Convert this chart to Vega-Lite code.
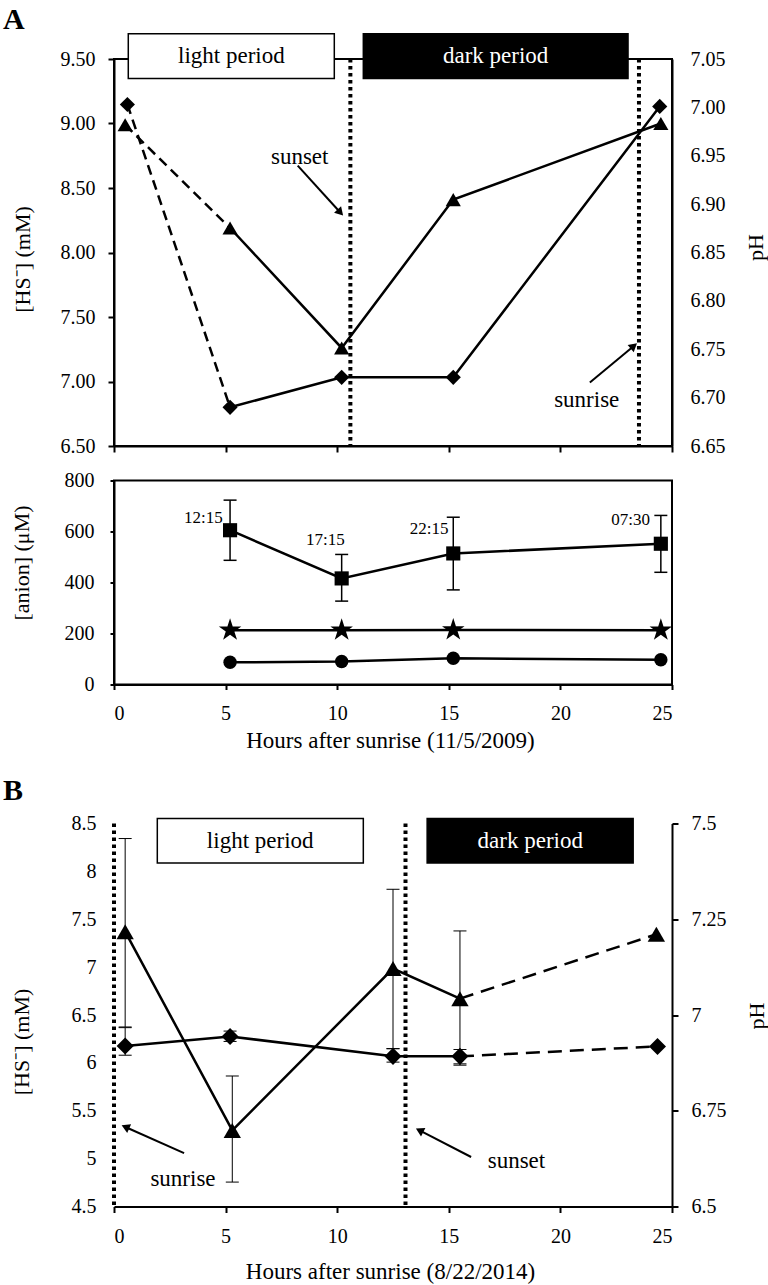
{
"$schema": "https://vega.github.io/schema/vega-lite/v6.json",
"padding": {"left": 2, "top": 3, "right": 1, "bottom": 0},
"bounds": "flush",
"spacing": 34.5,
"datasets": {
 "a_hs": [{"h":0.5,"v":8.99},{"h":5.2,"v":8.19},{"h":10.2,"v":7.26},{"h":15.2,"v":8.41},{"h":24.5,"v":9.0}],
 "a_ph": [{"h":0.6,"v":7.003},{"h":5.2,"v":6.69},{"h":10.2,"v":6.721},{"h":15.2,"v":6.721},{"h":24.45,"v":7.001}],
 "a_marks": [{"h":10.59},{"h":23.52}],
 "a_boxes": [{"period":"light","x1":0.64,"x2":9.87,"y1":9.348,"y2":9.696,"xc":5.26,"yc":9.522,"t":"light period"},{"period":"dark","x1":11.17,"x2":23.03,"y1":9.348,"y2":9.696,"xc":17.1,"yc":9.522,"t":"dark period"}],
 "a_notes": [{"t":"sunset","h":8.32,"v":8.744,"h1":8.23,"v1":8.674,"h2":10.14,"v2":8.31,"ang":47.7},{"t":"sunrise","h":21.18,"v":6.858,"h1":21.32,"v1":6.992,"h2":23.29,"v2":7.276,"ang":-39.8}],
 "anion": [
  {"ion":"sq","h":5.2,"v":605,"lo":487,"hi":723,"lab":"12:15","lh":4.0,"lv":654},
  {"ion":"sq","h":10.2,"v":416,"lo":327,"hi":510,"lab":"17:15","lh":9.47,"lv":565},
  {"ion":"sq","h":15.2,"v":514,"lo":371,"hi":656,"lab":"22:15","lh":14.12,"lv":611},
  {"ion":"sq","h":24.5,"v":552,"lo":440,"hi":663,"lab":"07:30","lh":23.15,"lv":647},
  {"ion":"star","h":5.2,"v":213},{"ion":"star","h":10.2,"v":213},{"ion":"star","h":15.2,"v":214},{"ion":"star","h":24.5,"v":213},
  {"ion":"circ","h":5.2,"v":87},{"ion":"circ","h":10.2,"v":90},{"ion":"circ","h":15.2,"v":103},{"ion":"circ","h":24.5,"v":97}
 ],
 "b_hs": [{"h":0.5,"v":7.37,"lo":6.375,"hi":8.343},{"h":5.3,"v":5.295,"lo":4.755,"hi":5.863},{"h":12.5,"v":6.985,"lo":6.149,"hi":7.813},{"h":15.5,"v":6.671,"lo":5.99,"hi":7.378},{"h":24.3,"v":7.343}],
 "b_ph": [{"h":0.5,"v":6.919,"lo":6.895,"hi":6.967},{"h":5.2,"v":6.944,"lo":6.931,"hi":6.958},{"h":12.5,"v":6.892,"lo":6.877,"hi":6.912},{"h":15.5,"v":6.892,"lo":6.869,"hi":6.91},{"h":24.35,"v":6.918}],
 "b_marks": [{"h":0},{"h":13.06}],
 "b_boxes": [{"period":"light","x1":1.94,"x2":11.17,"y1":8.088,"y2":8.552,"xc":6.55,"yc":8.32,"t":"light period"},{"period":"dark","x1":14.03,"x2":23.26,"y1":8.088,"y2":8.552,"xc":18.65,"yc":8.32,"t":"dark period"}],
 "b_notes": [{"t":"sunrise","h":3.09,"v":4.79,"h1":3.14,"v1":5.058,"h2":0.51,"v2":5.33,"ang":-156.1},{"t":"sunset","h":18.03,"v":4.98,"h1":16.0,"v1":5.017,"h2":13.69,"v2":5.295,"ang":-152.6}]
},
"vconcat": [
   {
    "width": 558, "height": 387,
    "view": {"stroke": "black", "strokeWidth": 2},
    "title": {"text": "A", "anchor": "start", "frame": "group", "dx": -111, "offset": -26, "baseline": "alphabetic"},
    "resolve": {"scale": {"y": "independent"}},
    "layer": [
     {"layer": [
      {"data": {"name": "a_hs"}, "transform": [{"filter": "datum.h <= 5.3"}],
       "mark": {"type": "line", "color": "black", "strokeWidth": 2.5, "strokeDash": [10, 6]},
       "encoding": {
        "x": {"field": "h", "type": "quantitative", "scale": {"domain": [0, 25], "nice": false, "zero": false}, "axis": {"values": [0, 5, 10, 15, 20, 25], "labels": false, "title": null, "tickSize": 6}},
        "y": {"field": "v", "type": "quantitative", "scale": {"domain": [6.5, 9.5], "nice": false, "zero": false}, "axis": {"values": [6.5, 7, 7.5, 8, 8.5, 9, 9.5], "format": ".2f", "tickSize": 6, "labelPadding": 13, "title": "[HS⁻] (mM)", "titleX": -80, "titleY": 200, "titleBaseline": "bottom", "titleAngle": 270}}
       }},
      {"data": {"name": "a_hs"}, "transform": [{"filter": "datum.h >= 5"}],
       "mark": {"type": "line", "color": "black", "strokeWidth": 2.5},
       "encoding": {
        "x": {"field": "h", "type": "quantitative", "scale": {"domain": [0, 25], "nice": false, "zero": false}},
        "y": {"field": "v", "type": "quantitative", "scale": {"domain": [6.5, 9.5], "nice": false, "zero": false}}
       }},
      {"data": {"name": "a_hs"},
       "mark": {"type": "point", "shape": "triangle-up", "filled": true, "color": "black", "opacity": 1, "size": 230},
       "encoding": {
        "x": {"field": "h", "type": "quantitative", "scale": {"domain": [0, 25], "nice": false, "zero": false}},
        "y": {"field": "v", "type": "quantitative", "scale": {"domain": [6.5, 9.5], "nice": false, "zero": false}}
       }},
      {"data": {"name": "a_marks"},
       "mark": {"type": "rule", "color": "black", "strokeWidth": 4, "strokeDash": [3.5, 3.5]},
       "encoding": {
        "x": {"field": "h", "type": "quantitative", "scale": {"domain": [0, 25], "nice": false, "zero": false}}
       }},
      {"data": {"name": "a_boxes"}, "transform": [{"filter": "datum.period == 'light'"}],
       "mark": {"type": "rect", "fill": "white", "stroke": "black", "strokeWidth": 1.5},
       "encoding": {
        "x": {"field": "x1", "type": "quantitative", "scale": {"domain": [0, 25], "nice": false, "zero": false}},
        "x2": {"field": "x2"},
        "y": {"field": "y1", "type": "quantitative", "scale": {"domain": [6.5, 9.5], "nice": false, "zero": false}},
        "y2": {"field": "y2"}
       }},
      {"data": {"name": "a_boxes"}, "transform": [{"filter": "datum.period == 'dark'"}],
       "mark": {"type": "rect", "fill": "black", "stroke": "black", "strokeWidth": 1.5},
       "encoding": {
        "x": {"field": "x1", "type": "quantitative", "scale": {"domain": [0, 25], "nice": false, "zero": false}},
        "x2": {"field": "x2"},
        "y": {"field": "y1", "type": "quantitative", "scale": {"domain": [6.5, 9.5], "nice": false, "zero": false}},
        "y2": {"field": "y2"}
       }},
      {"data": {"name": "a_boxes"}, "transform": [{"filter": "datum.period == 'light'"}],
       "mark": {"type": "text", "font": "Liberation Serif", "fontSize": 23, "color": "black", "baseline": "middle", "align": "center"},
       "encoding": {
        "x": {"field": "xc", "type": "quantitative", "scale": {"domain": [0, 25], "nice": false, "zero": false}},
        "y": {"field": "yc", "type": "quantitative", "scale": {"domain": [6.5, 9.5], "nice": false, "zero": false}},
        "text": {"field": "t"}
       }},
      {"data": {"name": "a_boxes"}, "transform": [{"filter": "datum.period == 'dark'"}],
       "mark": {"type": "text", "font": "Liberation Serif", "fontSize": 23, "color": "white", "baseline": "middle", "align": "center"},
       "encoding": {
        "x": {"field": "xc", "type": "quantitative", "scale": {"domain": [0, 25], "nice": false, "zero": false}},
        "y": {"field": "yc", "type": "quantitative", "scale": {"domain": [6.5, 9.5], "nice": false, "zero": false}},
        "text": {"field": "t"}
       }},
      {"data": {"name": "a_notes"},
       "mark": {"type": "text", "font": "Liberation Serif", "fontSize": 23, "color": "black", "baseline": "middle", "align": "center"},
       "encoding": {
        "x": {"field": "h", "type": "quantitative", "scale": {"domain": [0, 25], "nice": false, "zero": false}},
        "y": {"field": "v", "type": "quantitative", "scale": {"domain": [6.5, 9.5], "nice": false, "zero": false}},
        "text": {"field": "t"}
       }},
      {"data": {"name": "a_notes"},
       "mark": {"type": "rule", "color": "black", "strokeWidth": 2},
       "encoding": {
        "x": {"field": "h1", "type": "quantitative", "scale": {"domain": [0, 25], "nice": false, "zero": false}},
        "x2": {"field": "h2"},
        "y": {"field": "v1", "type": "quantitative", "scale": {"domain": [6.5, 9.5], "nice": false, "zero": false}},
        "y2": {"field": "v2"}
       }},
      {"data": {"name": "a_notes"},
       "mark": {"type": "point", "shape": "triangle-right", "filled": true, "color": "black", "opacity": 1, "size": 90},
       "encoding": {
        "x": {"field": "h2", "type": "quantitative", "scale": {"domain": [0, 25], "nice": false, "zero": false}},
        "y": {"field": "v2", "type": "quantitative", "scale": {"domain": [6.5, 9.5], "nice": false, "zero": false}},
        "angle": {"field": "ang", "type": "quantitative", "scale": null}
       }}
     ]},
     {"layer": [
      {"data": {"name": "a_ph"}, "transform": [{"filter": "datum.h <= 5.3"}],
       "mark": {"type": "line", "color": "black", "strokeWidth": 2.5, "strokeDash": [10, 6]},
       "encoding": {
        "x": {"field": "h", "type": "quantitative", "scale": {"domain": [0, 25], "nice": false, "zero": false}},
        "y": {"field": "v", "type": "quantitative", "scale": {"domain": [6.65, 7.05], "nice": false, "zero": false}, "axis": {"orient": "right", "values": [6.65, 6.7, 6.75, 6.8, 6.85, 6.9, 6.95, 7, 7.05], "format": ".2f", "ticks": false, "labelPadding": 18, "title": "pH", "titleX": 95, "titleY": 188, "titleBaseline": "bottom", "titleAngle": 270}}
       }},
      {"data": {"name": "a_ph"}, "transform": [{"filter": "datum.h >= 5"}],
       "mark": {"type": "line", "color": "black", "strokeWidth": 2.5},
       "encoding": {
        "x": {"field": "h", "type": "quantitative", "scale": {"domain": [0, 25], "nice": false, "zero": false}},
        "y": {"field": "v", "type": "quantitative", "scale": {"domain": [6.65, 7.05], "nice": false, "zero": false}}
       }},
      {"data": {"name": "a_ph"},
       "mark": {"type": "point", "shape": "diamond", "filled": true, "color": "black", "opacity": 1, "size": 230},
       "encoding": {
        "x": {"field": "h", "type": "quantitative", "scale": {"domain": [0, 25], "nice": false, "zero": false}},
        "y": {"field": "v", "type": "quantitative", "scale": {"domain": [6.65, 7.05], "nice": false, "zero": false}}
       }}
     ]}
    ]
   },
   {
    "width": 558, "height": 204,
    "view": {"stroke": "black", "strokeWidth": 2},
    "data": {"name": "anion"},
    "layer": [
     {"transform": [{"filter": "datum.ion == 'sq'"}],
      "mark": {"type": "rule", "color": "black", "strokeWidth": 1.5},
      "encoding": {
       "x": {"field": "h", "type": "quantitative", "scale": {"domain": [0, 25], "nice": false, "zero": false}, "axis": {"values": [0, 5, 10, 15, 20, 25], "tickSize": 5, "labelPadding": 14, "title": "Hours after sunrise (11/5/2009)", "titleFontSize": 23, "titleX": 276, "titleY": 63, "titleBaseline": "alphabetic", "titleAlign": "center"}},
       "y": {"field": "lo", "type": "quantitative", "scale": {"domain": [0, 800], "nice": false}, "axis": {"values": [0, 200, 400, 600, 800], "tickSize": 4, "labelPadding": 16, "title": "[anion] (μM)", "titleX": -81, "titleY": 82, "titleBaseline": "bottom", "titleAngle": 270}},
       "y2": {"field": "hi"}
      }},
     {"transform": [{"filter": "datum.ion == 'sq'"}],
      "mark": {"type": "tick", "orient": "horizontal", "size": 13, "thickness": 1.5, "color": "black", "opacity": 1},
      "encoding": {
       "x": {"field": "h", "type": "quantitative", "scale": {"domain": [0, 25], "nice": false, "zero": false}},
       "y": {"field": "lo", "type": "quantitative", "scale": {"domain": [0, 800], "nice": false}}
      }},
     {"transform": [{"filter": "datum.ion == 'sq'"}],
      "mark": {"type": "tick", "orient": "horizontal", "size": 13, "thickness": 1.5, "color": "black", "opacity": 1},
      "encoding": {
       "x": {"field": "h", "type": "quantitative", "scale": {"domain": [0, 25], "nice": false, "zero": false}},
       "y": {"field": "hi", "type": "quantitative", "scale": {"domain": [0, 800], "nice": false}}
      }},
     {"mark": {"type": "line", "color": "black", "strokeWidth": 2.5},
      "encoding": {
       "x": {"field": "h", "type": "quantitative", "scale": {"domain": [0, 25], "nice": false, "zero": false}},
       "y": {"field": "v", "type": "quantitative", "scale": {"domain": [0, 800], "nice": false}},
       "detail": {"field": "ion", "type": "nominal"}
      }},
     {"transform": [{"filter": "datum.ion == 'sq'"}],
      "mark": {"type": "point", "shape": "square", "filled": true, "color": "black", "opacity": 1, "size": 200},
      "encoding": {
       "x": {"field": "h", "type": "quantitative", "scale": {"domain": [0, 25], "nice": false, "zero": false}},
       "y": {"field": "v", "type": "quantitative", "scale": {"domain": [0, 800], "nice": false}}
      }},
     {"transform": [{"filter": "datum.ion == 'star'"}],
      "mark": {"type": "point", "shape": "M0,-1L0.2245,-0.309L0.951,-0.309L0.363,0.118L0.588,0.809L0,0.382L-0.588,0.809L-0.363,0.118L-0.951,-0.309L-0.2245,-0.309Z", "filled": true, "color": "black", "opacity": 1, "size": 560},
      "encoding": {
       "x": {"field": "h", "type": "quantitative", "scale": {"domain": [0, 25], "nice": false, "zero": false}},
       "y": {"field": "v", "type": "quantitative", "scale": {"domain": [0, 800], "nice": false}}
      }},
     {"transform": [{"filter": "datum.ion == 'circ'"}],
      "mark": {"type": "point", "shape": "circle", "filled": true, "color": "black", "opacity": 1, "size": 180},
      "encoding": {
       "x": {"field": "h", "type": "quantitative", "scale": {"domain": [0, 25], "nice": false, "zero": false}},
       "y": {"field": "v", "type": "quantitative", "scale": {"domain": [0, 800], "nice": false}}
      }},
     {"transform": [{"filter": "datum.ion == 'sq'"}],
      "mark": {"type": "text", "font": "Liberation Serif", "fontSize": 17, "color": "black", "baseline": "middle", "align": "center"},
      "encoding": {
       "x": {"field": "lh", "type": "quantitative", "scale": {"domain": [0, 25], "nice": false, "zero": false}},
       "y": {"field": "lv", "type": "quantitative", "scale": {"domain": [0, 800], "nice": false}},
       "text": {"field": "lab"}
      }}
    ]
   },
   {
    "width": 558, "height": 69.3,
    "data": {"values": []},
    "mark": {"type": "point"},
    "encoding": {}
   },
 {
  "width": 558, "height": 383,
  "title": {"text": "B", "anchor": "start", "frame": "group", "dx": -111, "offset": -16, "baseline": "alphabetic"},
  "resolve": {"scale": {"y": "independent"}},
  "layer": [
   {"layer": [
    {"data": {"name": "b_hs"}, "transform": [{"filter": "isValid(datum.lo)"}],
     "mark": {"type": "rule", "color": "black", "strokeWidth": 1},
     "encoding": {
      "x": {"field": "h", "type": "quantitative", "scale": {"domain": [0, 25], "nice": false, "zero": false}, "axis": {"values": [0, 5, 10, 15, 20, 25], "tickSize": 6, "labelPadding": 14, "title": "Hours after sunrise (8/22/2014)", "titleFontSize": 23, "titleX": 276, "titleY": 72, "titleBaseline": "alphabetic", "titleAlign": "center"}},
      "y": {"field": "lo", "type": "quantitative", "scale": {"domain": [4.5, 8.5], "nice": false, "zero": false}, "axis": {"values": [4.5, 5, 5.5, 6, 6.5, 7, 7.5, 8, 8.5], "labelExpr": "'' + datum.value", "ticks": false, "domain": false, "labelPadding": 18, "title": "[HS⁻] (mM)", "titleX": -80.5, "titleY": 218, "titleBaseline": "bottom", "titleAngle": 270}},
      "y2": {"field": "hi"}
     }},
    {"data": {"name": "b_hs"}, "transform": [{"filter": "isValid(datum.lo)"}],
     "mark": {"type": "tick", "orient": "horizontal", "size": 13, "thickness": 1, "color": "black", "opacity": 1},
     "encoding": {
      "x": {"field": "h", "type": "quantitative", "scale": {"domain": [0, 25], "nice": false, "zero": false}},
      "y": {"field": "lo", "type": "quantitative", "scale": {"domain": [4.5, 8.5], "nice": false, "zero": false}}
     }},
    {"data": {"name": "b_hs"}, "transform": [{"filter": "isValid(datum.hi)"}],
     "mark": {"type": "tick", "orient": "horizontal", "size": 13, "thickness": 1, "color": "black", "opacity": 1},
     "encoding": {
      "x": {"field": "h", "type": "quantitative", "scale": {"domain": [0, 25], "nice": false, "zero": false}},
      "y": {"field": "hi", "type": "quantitative", "scale": {"domain": [4.5, 8.5], "nice": false, "zero": false}}
     }},
    {"data": {"name": "b_hs"}, "transform": [{"filter": "datum.h <= 15.6"}],
     "mark": {"type": "line", "color": "black", "strokeWidth": 2.5},
     "encoding": {
      "x": {"field": "h", "type": "quantitative", "scale": {"domain": [0, 25], "nice": false, "zero": false}},
      "y": {"field": "v", "type": "quantitative", "scale": {"domain": [4.5, 8.5], "nice": false, "zero": false}}
     }},
    {"data": {"name": "b_hs"}, "transform": [{"filter": "datum.h >= 15.4"}],
     "mark": {"type": "line", "color": "black", "strokeWidth": 2.5, "strokeDash": [14, 8]},
     "encoding": {
      "x": {"field": "h", "type": "quantitative", "scale": {"domain": [0, 25], "nice": false, "zero": false}},
      "y": {"field": "v", "type": "quantitative", "scale": {"domain": [4.5, 8.5], "nice": false, "zero": false}}
     }},
    {"data": {"name": "b_hs"},
     "mark": {"type": "point", "shape": "triangle-up", "filled": true, "color": "black", "opacity": 1, "size": 300},
     "encoding": {
      "x": {"field": "h", "type": "quantitative", "scale": {"domain": [0, 25], "nice": false, "zero": false}},
      "y": {"field": "v", "type": "quantitative", "scale": {"domain": [4.5, 8.5], "nice": false, "zero": false}}
     }},
    {"data": {"name": "b_marks"},
     "mark": {"type": "rule", "color": "black", "strokeWidth": 4, "strokeDash": [3.5, 3.5]},
     "encoding": {
      "x": {"field": "h", "type": "quantitative", "scale": {"domain": [0, 25], "nice": false, "zero": false}}
     }},
    {"data": {"name": "b_boxes"}, "transform": [{"filter": "datum.period == 'light'"}],
     "mark": {"type": "rect", "fill": "white", "stroke": "black", "strokeWidth": 1.5},
     "encoding": {
      "x": {"field": "x1", "type": "quantitative", "scale": {"domain": [0, 25], "nice": false, "zero": false}},
      "x2": {"field": "x2"},
      "y": {"field": "y1", "type": "quantitative", "scale": {"domain": [4.5, 8.5], "nice": false, "zero": false}},
      "y2": {"field": "y2"}
     }},
    {"data": {"name": "b_boxes"}, "transform": [{"filter": "datum.period == 'dark'"}],
     "mark": {"type": "rect", "fill": "black", "stroke": "black", "strokeWidth": 1.5},
     "encoding": {
      "x": {"field": "x1", "type": "quantitative", "scale": {"domain": [0, 25], "nice": false, "zero": false}},
      "x2": {"field": "x2"},
      "y": {"field": "y1", "type": "quantitative", "scale": {"domain": [4.5, 8.5], "nice": false, "zero": false}},
      "y2": {"field": "y2"}
     }},
    {"data": {"name": "b_boxes"}, "transform": [{"filter": "datum.period == 'light'"}],
     "mark": {"type": "text", "font": "Liberation Serif", "fontSize": 23, "color": "black", "baseline": "middle", "align": "center"},
     "encoding": {
      "x": {"field": "xc", "type": "quantitative", "scale": {"domain": [0, 25], "nice": false, "zero": false}},
      "y": {"field": "yc", "type": "quantitative", "scale": {"domain": [4.5, 8.5], "nice": false, "zero": false}},
      "text": {"field": "t"}
     }},
    {"data": {"name": "b_boxes"}, "transform": [{"filter": "datum.period == 'dark'"}],
     "mark": {"type": "text", "font": "Liberation Serif", "fontSize": 23, "color": "white", "baseline": "middle", "align": "center"},
     "encoding": {
      "x": {"field": "xc", "type": "quantitative", "scale": {"domain": [0, 25], "nice": false, "zero": false}},
      "y": {"field": "yc", "type": "quantitative", "scale": {"domain": [4.5, 8.5], "nice": false, "zero": false}},
      "text": {"field": "t"}
     }},
    {"data": {"name": "b_notes"},
     "mark": {"type": "text", "font": "Liberation Serif", "fontSize": 23, "color": "black", "baseline": "middle", "align": "center"},
     "encoding": {
      "x": {"field": "h", "type": "quantitative", "scale": {"domain": [0, 25], "nice": false, "zero": false}},
      "y": {"field": "v", "type": "quantitative", "scale": {"domain": [4.5, 8.5], "nice": false, "zero": false}},
      "text": {"field": "t"}
     }},
    {"data": {"name": "b_notes"},
     "mark": {"type": "rule", "color": "black", "strokeWidth": 2},
     "encoding": {
      "x": {"field": "h1", "type": "quantitative", "scale": {"domain": [0, 25], "nice": false, "zero": false}},
      "x2": {"field": "h2"},
      "y": {"field": "v1", "type": "quantitative", "scale": {"domain": [4.5, 8.5], "nice": false, "zero": false}},
      "y2": {"field": "v2"}
     }},
    {"data": {"name": "b_notes"},
     "mark": {"type": "point", "shape": "triangle-right", "filled": true, "color": "black", "opacity": 1, "size": 90},
     "encoding": {
      "x": {"field": "h2", "type": "quantitative", "scale": {"domain": [0, 25], "nice": false, "zero": false}},
      "y": {"field": "v2", "type": "quantitative", "scale": {"domain": [4.5, 8.5], "nice": false, "zero": false}},
      "angle": {"field": "ang", "type": "quantitative", "scale": null}
     }}
   ]},
   {"layer": [
    {"data": {"name": "b_ph"}, "transform": [{"filter": "isValid(datum.lo)"}],
     "mark": {"type": "rule", "color": "black", "strokeWidth": 1},
     "encoding": {
      "x": {"field": "h", "type": "quantitative", "scale": {"domain": [0, 25], "nice": false, "zero": false}},
      "y": {"field": "lo", "type": "quantitative", "scale": {"domain": [6.5, 7.5], "nice": false, "zero": false}, "axis": {"orient": "right", "values": [6.5, 6.75, 7, 7.25, 7.5], "labelExpr": "'' + datum.value", "tickSize": 6, "labelPadding": 13, "title": "pH", "titleX": 96, "titleY": 192, "titleBaseline": "bottom", "titleAngle": 270}},
      "y2": {"field": "hi"}
     }},
    {"data": {"name": "b_ph"}, "transform": [{"filter": "isValid(datum.lo)"}],
     "mark": {"type": "tick", "orient": "horizontal", "size": 13, "thickness": 1, "color": "black", "opacity": 1},
     "encoding": {
      "x": {"field": "h", "type": "quantitative", "scale": {"domain": [0, 25], "nice": false, "zero": false}},
      "y": {"field": "lo", "type": "quantitative", "scale": {"domain": [6.5, 7.5], "nice": false, "zero": false}}
     }},
    {"data": {"name": "b_ph"}, "transform": [{"filter": "isValid(datum.hi)"}],
     "mark": {"type": "tick", "orient": "horizontal", "size": 13, "thickness": 1, "color": "black", "opacity": 1},
     "encoding": {
      "x": {"field": "h", "type": "quantitative", "scale": {"domain": [0, 25], "nice": false, "zero": false}},
      "y": {"field": "hi", "type": "quantitative", "scale": {"domain": [6.5, 7.5], "nice": false, "zero": false}}
     }},
    {"data": {"name": "b_ph"}, "transform": [{"filter": "datum.h <= 15.6"}],
     "mark": {"type": "line", "color": "black", "strokeWidth": 2.5},
     "encoding": {
      "x": {"field": "h", "type": "quantitative", "scale": {"domain": [0, 25], "nice": false, "zero": false}},
      "y": {"field": "v", "type": "quantitative", "scale": {"domain": [6.5, 7.5], "nice": false, "zero": false}}
     }},
    {"data": {"name": "b_ph"}, "transform": [{"filter": "datum.h >= 15.4"}],
     "mark": {"type": "line", "color": "black", "strokeWidth": 2.5, "strokeDash": [14, 8]},
     "encoding": {
      "x": {"field": "h", "type": "quantitative", "scale": {"domain": [0, 25], "nice": false, "zero": false}},
      "y": {"field": "v", "type": "quantitative", "scale": {"domain": [6.5, 7.5], "nice": false, "zero": false}}
     }},
    {"data": {"name": "b_ph"},
     "mark": {"type": "point", "shape": "diamond", "filled": true, "color": "black", "opacity": 1, "size": 290},
     "encoding": {
      "x": {"field": "h", "type": "quantitative", "scale": {"domain": [0, 25], "nice": false, "zero": false}},
      "y": {"field": "v", "type": "quantitative", "scale": {"domain": [6.5, 7.5], "nice": false, "zero": false}}
     }}
   ]}
  ]
 }
],
"config": {
 "font": "Liberation Serif",
 "view": {"stroke": null},
 "axis": {"labelFont": "Liberation Serif", "titleFont": "Liberation Serif", "labelFontSize": 20, "titleFontSize": 22, "titleFontWeight": "normal", "labelColor": "black", "titleColor": "black", "domainColor": "black", "tickColor": "black", "domainWidth": 2, "tickWidth": 2, "grid": false},
 "title": {"font": "Liberation Serif", "fontSize": 30, "fontWeight": "bold", "color": "black"}
}
}
